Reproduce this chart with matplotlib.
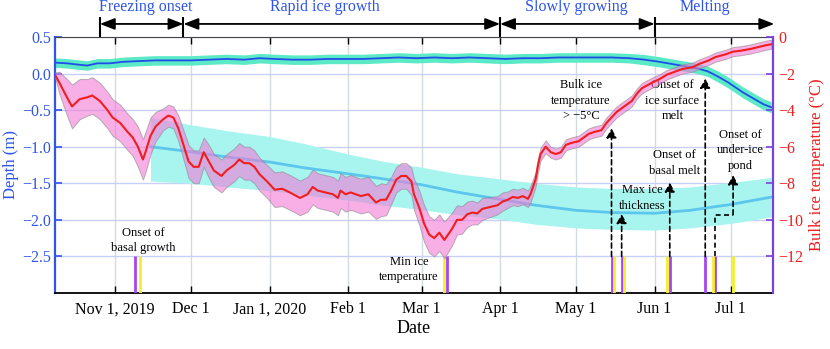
import pandas as pd
import matplotlib
matplotlib.use("Agg")
import matplotlib.pyplot as plt
import matplotlib.dates as mdates

plt.rcParams["font.family"] = ["Liberation Serif", "DejaVu Serif"]

# --- ice surface (left axis, m) ---
surf_dates = ["2019-10-08", "2019-10-13", "2019-10-18", "2019-10-21", "2019-10-25", "2019-10-30",
              "2019-11-04", "2019-11-10", "2019-11-17", "2019-11-24", "2019-12-01", "2019-12-08",
              "2019-12-15", "2019-12-22", "2019-12-28", "2020-01-03", "2020-01-10", "2020-01-17",
              "2020-01-24", "2020-01-31", "2020-02-07", "2020-02-14", "2020-02-21", "2020-02-28",
              "2020-03-06", "2020-03-13", "2020-03-20", "2020-03-27", "2020-04-03", "2020-04-10",
              "2020-04-17", "2020-04-24", "2020-05-01", "2020-05-08", "2020-05-15", "2020-05-22",
              "2020-05-28", "2020-06-03", "2020-06-08", "2020-06-13", "2020-06-18", "2020-06-22",
              "2020-06-26", "2020-06-30", "2020-07-03", "2020-07-06", "2020-07-10", "2020-07-14",
              "2020-07-17"]
surf_depth = [0.15, 0.14, 0.12, 0.11, 0.14, 0.14, 0.16, 0.17, 0.18, 0.18, 0.18, 0.19,
              0.20, 0.19, 0.21, 0.20, 0.19, 0.19, 0.20, 0.20, 0.20, 0.21, 0.22, 0.21,
              0.22, 0.21, 0.22, 0.21, 0.20, 0.21, 0.21, 0.22, 0.22, 0.22, 0.22, 0.21,
              0.19, 0.16, 0.13, 0.10, 0.07, 0.03, -0.04, -0.12, -0.19, -0.26, -0.34, -0.42,
              -0.46]
surf_spread = [0.065] * 36 + [0.07] * 6 + [0.075] * 7

# --- ice base (left axis, m) ---
base_dates = ["2019-11-15", "2019-12-01", "2019-12-15", "2020-01-01", "2020-01-15", "2020-02-01",
              "2020-02-15", "2020-03-01", "2020-03-15", "2020-04-01", "2020-04-15", "2020-05-01",
              "2020-05-15", "2020-06-01", "2020-06-15", "2020-07-01", "2020-07-17"]
base_depth = [-1.00, -1.07, -1.14, -1.21, -1.29, -1.37, -1.44, -1.52, -1.62, -1.72, -1.80, -1.87,
              -1.90, -1.91, -1.87, -1.79, -1.69]
base_upper = [-0.60, -0.70, -0.78, -0.86, -0.96, -1.10, -1.20, -1.28, -1.37, -1.44, -1.50, -1.55,
              -1.57, -1.57, -1.55, -1.49, -1.42]
base_lower = [-1.47, -1.50, -1.55, -1.60, -1.66, -1.73, -1.80, -1.86, -1.93, -1.99, -2.06, -2.11,
              -2.13, -2.14, -2.11, -2.05, -1.96]

# --- bulk ice temperature (right axis, degC) ---
red_dates = ["2019-10-08", "2019-10-10", "2019-10-13", "2019-10-15", "2019-10-18", "2019-10-21",
             "2019-10-23", "2019-10-26", "2019-10-29", "2019-10-31", "2019-11-03", "2019-11-06",
             "2019-11-08", "2019-11-10", "2019-11-12", "2019-11-13", "2019-11-15", "2019-11-17",
             "2019-11-20", "2019-11-22", "2019-11-24", "2019-11-26", "2019-11-28", "2019-11-30",
             "2019-12-02", "2019-12-04", "2019-12-06", "2019-12-08", "2019-12-10", "2019-12-13",
             "2019-12-15", "2019-12-18", "2019-12-20", "2019-12-22", "2019-12-24", "2019-12-26",
             "2019-12-28", "2019-12-31", "2020-01-03", "2020-01-06", "2020-01-09", "2020-01-13",
             "2020-01-16", "2020-01-18", "2020-01-20", "2020-01-23", "2020-01-26", "2020-01-28",
             "2020-01-29", "2020-01-31", "2020-02-02", "2020-02-04", "2020-02-06", "2020-02-09",
             "2020-02-12", "2020-02-14", "2020-02-16", "2020-02-18", "2020-02-20", "2020-02-22",
             "2020-02-24", "2020-02-26", "2020-02-27", "2020-02-29", "2020-03-02", "2020-03-04",
             "2020-03-06", "2020-03-08", "2020-03-10", "2020-03-13", "2020-03-15", "2020-03-17",
             "2020-03-19", "2020-03-21", "2020-03-23", "2020-03-25", "2020-03-28", "2020-03-31",
             "2020-04-02", "2020-04-04", "2020-04-06", "2020-04-08", "2020-04-10", "2020-04-12",
             "2020-04-13", "2020-04-15", "2020-04-16", "2020-04-17", "2020-04-19", "2020-04-21",
             "2020-04-23", "2020-04-25", "2020-04-27", "2020-04-29", "2020-05-02", "2020-05-04",
             "2020-05-06", "2020-05-08", "2020-05-11", "2020-05-13", "2020-05-15", "2020-05-17",
             "2020-05-20", "2020-05-23", "2020-05-25", "2020-05-27", "2020-05-31", "2020-06-03",
             "2020-06-06", "2020-06-09", "2020-06-12", "2020-06-16", "2020-06-19", "2020-06-22",
             "2020-06-25", "2020-06-29", "2020-07-02", "2020-07-05", "2020-07-09", "2020-07-12",
             "2020-07-15", "2020-07-17"]
red_temp = [-2.0, -2.5, -3.3, -3.8, -3.4, -3.3,
            -3.2, -3.5, -4.0, -4.4, -4.7, -5.2,
            -5.5, -6.0, -6.7, -6.3, -5.4, -4.9,
            -4.5, -4.3, -4.4, -5.0, -5.9, -6.8,
            -7.1, -7.1, -6.3, -6.8, -7.3, -7.6,
            -7.3, -7.0, -6.7, -6.9, -6.9, -7.1,
            -7.5, -7.9, -8.35, -8.3, -8.5, -8.8,
            -8.6, -8.2, -8.4, -8.5, -8.6, -8.8,
            -8.4, -8.6, -8.5, -8.6, -8.7, -8.6,
            -9.05, -8.9, -8.9, -8.4, -7.8, -7.6,
            -7.6, -7.9, -8.6, -9.3, -10.2, -10.8,
            -11.0, -10.7, -11.1, -10.5, -10.0, -10.0,
            -9.7, -9.6, -9.65, -9.4, -9.3, -9.2,
            -9.0, -8.9, -8.75, -8.8, -8.7, -8.85,
            -8.6, -7.8, -7.0, -6.4, -6.0, -6.3,
            -6.4, -6.3, -5.9, -5.8, -5.7, -5.5,
            -5.3, -5.2, -5.1, -4.7, -4.4, -4.1,
            -3.8, -3.5, -3.1, -2.8, -2.5, -2.3,
            -2.05, -1.9, -1.75, -1.65, -1.45, -1.3,
            -1.1, -0.95, -0.8, -0.75, -0.65, -0.55,
            -0.45, -0.4]
red_spread = [0.05, 0.6, 1.0, 1.2, 1.1, 1.0,
              1.0, 1.0, 1.0, 1.0, 1.0, 1.0,
              1.0, 1.1, 1.1, 1.1, 1.0, 0.8,
              0.6, 0.6, 0.6, 0.7, 0.8, 0.9,
              0.9, 0.9, 0.8, 0.9, 0.9, 0.9,
              0.9, 0.9, 0.9, 0.9, 0.9, 0.9,
              0.9, 0.9, 0.95, 0.95, 0.95, 0.95,
              0.95, 0.95, 0.95, 0.95, 0.95, 0.95,
              0.95, 0.95, 0.95, 0.95, 0.95, 0.95,
              0.9, 0.9, 0.85, 0.75, 0.7, 0.7,
              0.7, 0.75, 0.85, 0.95, 1.0, 1.0,
              1.0, 1.0, 1.0, 0.9, 0.8, 0.75,
              0.7, 0.65, 0.6, 0.6, 0.55, 0.5,
              0.5, 0.45, 0.45, 0.45, 0.45, 0.45,
              0.45, 0.4, 0.4, 0.35, 0.35, 0.3,
              0.3, 0.3, 0.3, 0.3, 0.3, 0.3,
              0.3, 0.3, 0.3, 0.3, 0.3, 0.3,
              0.3, 0.3, 0.28, 0.28, 0.28, 0.26,
              0.26, 0.25, 0.25, 0.25, 0.25, 0.25,
              0.25, 0.25, 0.25, 0.25, 0.25, 0.25,
              0.25, 0.25]

# --- event markers ---
purple_events = ["2019-11-09", "2020-03-11", "2020-05-15", "2020-05-19", "2020-06-07",
                 "2020-06-21", "2020-06-25"]
yellow_events = ["2019-11-11", "2020-03-10", "2020-05-16", "2020-05-20", "2020-06-06",
                 "2020-06-24", "2020-07-02"]

# --- phases along the top ---
phase_bounds = ["2019-10-26", "2019-11-28", "2020-04-01", "2020-06-01"]
phase_names = ["Freezing onset", "Rapid ice growth", "Slowly growing", "Melting"]
phase_label_dates = ["2019-11-13", "2020-01-23", "2020-05-01", "2020-06-21"]

month_ticks = ["2019-11-01", "2019-12-01", "2020-01-01", "2020-02-01", "2020-03-01",
               "2020-04-01", "2020-05-01", "2020-06-01", "2020-07-01"]
month_labels = ["Nov 1, 2019", "Dec 1", "Jan 1, 2020", "Feb 1", "Mar 1",
                "Apr 1", "May 1", "Jun 1", "Jul 1"]

BLUE = "#2f55ea"
RED = "#f01e1e"
PURPLE = "#7a40e0"
D = pd.to_datetime


def num(d):
    return mdates.date2num(pd.Timestamp(d))


fig = plt.figure(figsize=(8.3, 3.49), dpi=100)
ax = fig.add_axes([0.0663, 0.1605, 0.8645, 0.7335])
ax2 = ax.twinx()

# bands and lines on the depth axis
ax.fill_between(D(base_dates), base_lower, base_upper, color="#a8f5f0", lw=0, zorder=1)
ax.plot(D(base_dates), base_depth, color="#5cc6ec", lw=2, zorder=2)
s_lo = [v - s for v, s in zip(surf_depth, surf_spread)]
s_hi = [v + s for v, s in zip(surf_depth, surf_spread)]
ax.fill_between(D(surf_dates), s_lo, s_hi, color="#5ce9c6", lw=0, zorder=1)
ax.plot(D(surf_dates), surf_depth, color="#1f4fe8", lw=1.3, zorder=3)

# event bars
ax.vlines(D(purple_events), -3.0, -2.5, colors="#a545f2", lw=2.0, zorder=4)
ax.vlines(D(yellow_events), -3.0, -2.5, colors="#f2f02a", lw=2.0, zorder=4)

# temperature on right axis
t_lo = [v - s for v, s in zip(red_temp, red_spread)]
t_hi = [v + s for v, s in zip(red_temp, red_spread)]
ax2.fill_between(D(red_dates), t_lo, t_hi, facecolor="#f27ad6", alpha=0.6,
                 edgecolor="#8a8a8a", lw=0.7)
ax2.plot(D(red_dates), red_temp, color=RED, lw=1.5)

# axes setup
ax.set_xlim(pd.Timestamp("2019-10-08 07:00"), pd.Timestamp("2020-07-17 14:00"))
ax.set_ylim(-3.0, 0.5)
ax2.set_ylim(-14, 0)
ax.set_xticks(D(month_ticks))
ax.set_xticklabels(month_labels, fontsize=11.5)
yt = [0.5, 0.0, -0.5, -1.0, -1.5, -2.0, -2.5]
ax.set_yticks(yt)
ax.set_yticklabels([f"{v:.1f}".replace("-", "\u2212") for v in yt], color=BLUE, fontsize=11.5)
rt = [0, -2, -4, -6, -8, -10, -12]
ax2.set_yticks(rt)
ax2.set_yticklabels([str(v).replace("-", "\u2212") for v in rt], color=RED, fontsize=11.5)

ax.tick_params(axis="x", direction="in", top=True, length=5, width=1, pad=6)
ax.tick_params(axis="y", direction="in", length=5, width=1.2, color=BLUE, pad=3)
ax2.tick_params(axis="y", direction="in", length=5, width=1.2, color=PURPLE, pad=4)

ax.set_axisbelow(True)
ax.yaxis.grid(True, color="#c9d0f6", lw=1)
ax.xaxis.grid(True, color="#d3dbde", lw=1)

ax.spines["left"].set_color(BLUE)
ax.spines["left"].set_linewidth(1.6)
ax.spines["right"].set_visible(False)
ax2.spines["left"].set_visible(False)
ax2.spines["right"].set_color(PURPLE)
ax2.spines["right"].set_linewidth(1.6)
ax2.spines["top"].set_visible(False)
ax2.spines["bottom"].set_visible(False)
ax.spines["bottom"].set_linewidth(1.3)
ax.spines["top"].set_color("#444444")

ax.set_xlabel("Date", fontsize=13, labelpad=2)
ax.set_ylabel("Depth (m)", color=BLUE, fontsize=12, labelpad=2)
ax2.set_ylabel("Bulk ice temperature (\u00b0C)", color=RED, fontsize=12, labelpad=4)

# phase arrows above the plot
xt = ax.get_xaxis_transform()
ax.vlines([num(d) for d in phase_bounds], 1.0, 1.078, transform=xt, colors="k", lw=1.5,
          clip_on=False)
ends = phase_bounds + ["2020-07-18 06:00"]
for i in range(len(phase_names)):
    style = "<|-|>" if i < 3 else "-|>"
    ax.annotate("", xy=(num(ends[i + 1]), 1.051), xytext=(num(ends[i]), 1.051),
                xycoords=xt, textcoords=xt, annotation_clip=False,
                arrowprops=dict(arrowstyle=style + ",head_length=0.9,head_width=0.35",
                                color="k", lw=1.3, shrinkA=0, shrinkB=0))
    ax.text(num(phase_label_dates[i]), 1.117, phase_names[i], transform=xt, ha="center",
            va="center", color=BLUE, fontsize=11.5)

# event annotations
fs = 9
notes = [("2019-11-12", -2.28, "Onset of\nbasal growth"),
         ("2020-02-25", -2.68, "Min ice\ntemperature"),
         ("2020-05-03", -0.37, "Bulk ice\ntemperature\n> \u22125\u00b0C"),
         ("2020-05-27", -1.70, "Max ice\nthickness"),
         ("2020-06-09", -1.22, "Onset of\nbasal melt"),
         ("2020-06-08", -0.37, "Onset of\nice surface\nmelt"),
         ("2020-07-05", -1.05, "Onset of\nunder-ice\npond")]
for d, y, s in notes:
    ax.text(num(d), y, s, ha="center", va="center", fontsize=fs, linespacing=1.4, zorder=5)

arrow_kw = dict(arrowstyle="-|>,head_length=0.55,head_width=0.3", color="k", lw=1.2,
                linestyle=(0, (3, 2)), shrinkA=0, shrinkB=0)
arrow_events = [("2020-05-15", -0.75), ("2020-05-19", -1.92), ("2020-06-07", -1.49),
                ("2020-06-21", -0.07)]
for d, tip in arrow_events:
    ax.annotate("", xy=(num(d), tip), xytext=(num(d), -2.5), arrowprops=arrow_kw, zorder=5)
# under-ice pond: elbow arrow
ax.plot(D(["2020-06-25", "2020-06-25", "2020-07-02"]), [-2.5, -1.93, -1.93], color="k",
        lw=1.2, ls=(0, (3, 2)), zorder=5)
ax.annotate("", xy=(num("2020-07-02"), -1.39), xytext=(num("2020-07-02"), -1.93),
            arrowprops=arrow_kw, zorder=5)

fig.savefig("out.png", dpi=100)
